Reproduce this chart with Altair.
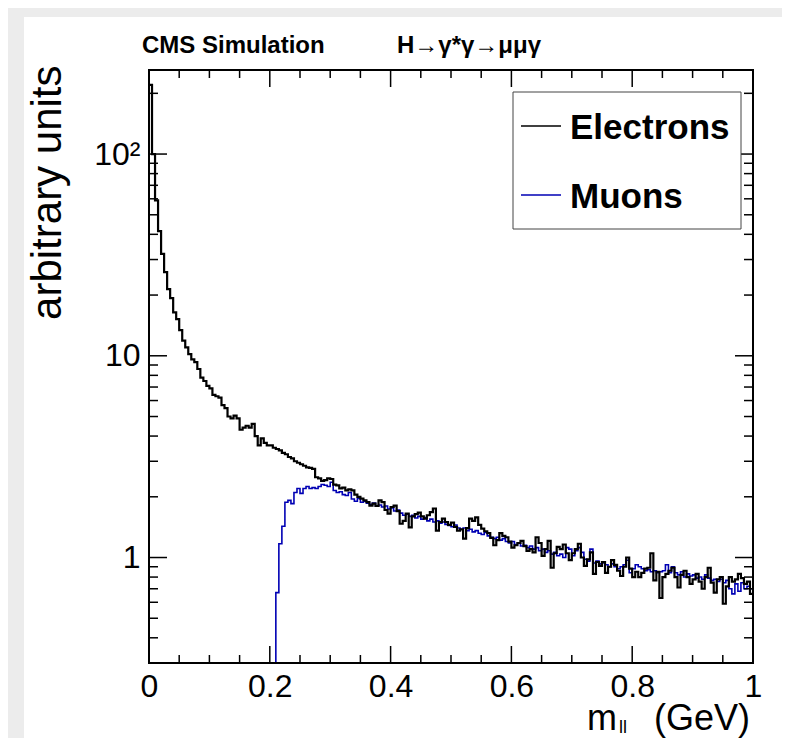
import altair as alt
import pandas as pd

# ---------------- data ----------------
n_bins = 200
x_lo, x_hi = 0.0, 1.0

electrons = [
    220, 100, 59, 41.5, 32, 26, 21.4, 19.3, 16.4, 15.2,
    13.4, 11.9, 11.0, 10.2, 9.6, 9.3, 8.6, 7.8, 7.5, 7.1,
    6.9, 6.4, 6.3, 6.2, 5.7, 5.5, 5.0, 4.9, 5.05, 4.9,
    4.3, 4.4, 4.5, 4.4, 4.6, 4.0, 3.6, 3.9, 3.7, 3.6,
    3.6, 3.5, 3.45, 3.4, 3.3, 3.25, 3.15, 3.1, 3.0, 2.95,
    2.9, 2.85, 2.8, 2.78, 2.75, 2.5, 2.47, 2.4, 2.42, 2.47,
    2.45, 2.3, 2.28, 2.2, 2.22, 2.15, 2.18, 2.15, 2.05, 2.0,
    1.96, 1.92, 1.88, 1.81, 1.85, 1.8, 1.92, 1.88, 1.72, 1.65,
    1.78, 1.81, 1.7, 1.47, 1.52, 1.65, 1.41, 1.6, 1.64, 1.67,
    1.6, 1.56, 1.62, 1.68, 1.75, 1.36, 1.5, 1.56, 1.5, 1.45,
    1.49, 1.42, 1.36, 1.38, 1.24, 1.4, 1.56, 1.52, 1.58, 1.45,
    1.39, 1.35, 1.32, 1.25, 1.15, 1.22, 1.32, 1.28, 1.26, 1.2,
    1.12, 1.15, 1.18, 1.21, 1.14, 1.08, 1.1, 1.06, 1.26, 1.18,
    1.02, 1.1, 1.21, 0.89, 1.05, 1.13, 1.1, 1.16, 1.05, 0.97,
    1.05, 1.1, 1.17, 1.0, 0.91, 0.98, 1.06, 0.83, 0.95, 0.91,
    0.95, 0.84, 0.9, 0.97, 0.92, 0.86, 0.81, 0.9, 1.0, 0.88,
    0.80, 0.85, 0.80, 0.84, 0.88, 0.89, 1.05, 0.77, 0.85, 0.63,
    0.8, 0.83, 0.86, 0.89, 0.8, 0.71, 0.82, 0.86, 0.8, 0.74,
    0.78, 0.83, 0.76, 0.70, 0.8, 0.89, 0.75, 0.67, 0.78, 0.80,
    0.59, 0.72, 0.80, 0.76, 0.78, 0.83, 0.79, 0.74, 0.76, 0.66,
]

muons = [
    0, 0, 0, 0, 0, 0, 0, 0, 0, 0,
    0, 0, 0, 0, 0, 0, 0, 0, 0, 0,
    0, 0, 0, 0, 0, 0, 0, 0, 0, 0,
    0, 0, 0, 0, 0, 0, 0, 0, 0, 0,
    0, 0, 0.67, 1.17, 1.43, 1.88, 1.92, 1.85, 2.1, 2.2,
    2.08, 2.2, 2.25, 2.2, 2.22, 2.2, 2.25, 2.3, 2.28, 2.25,
    2.36, 2.15, 2.1, 2.12, 2.05, 2.03, 2.1, 1.95, 1.9, 1.96,
    1.88, 1.9, 1.86, 1.83, 1.86, 1.8, 1.82, 1.78, 1.8, 1.74,
    1.76, 1.7, 1.72, 1.66, 1.62, 1.64, 1.6, 1.62, 1.57, 1.6,
    1.55, 1.58, 1.52, 1.55, 1.5, 1.52, 1.48, 1.5, 1.46, 1.44,
    1.42, 1.45, 1.4, 1.38, 1.4, 1.36, 1.38, 1.34, 1.36, 1.32,
    1.3, 1.33, 1.28, 1.26, 1.24, 1.26, 1.22, 1.24, 1.2, 1.18,
    1.2, 1.16, 1.18, 1.14, 1.15, 1.12, 1.14, 1.1, 1.12, 1.08,
    1.1, 1.06, 1.08, 1.04, 1.06, 1.02, 1.04, 1.0, 1.12, 1.1,
    1.02, 1.08, 1.12, 1.06, 0.98, 0.96, 1.1, 0.94, 0.96, 0.93,
    0.94, 0.92, 0.9, 0.93, 0.9, 0.88, 0.9, 0.92, 0.97, 0.84,
    0.88, 0.92, 0.9, 0.88, 0.86, 0.87, 0.85, 0.86, 0.84, 0.85,
    0.86, 0.92, 0.84, 0.9, 0.84, 0.82, 0.85, 0.8, 0.83, 0.81,
    0.82, 0.79, 0.8, 0.78, 0.82, 0.79, 0.77, 0.78, 0.76, 0.78,
    0.75, 0.77, 0.7, 0.66, 0.74, 0.68, 0.75, 0.7, 0.72, 0.7,
]

x_major = [0, 0.2, 0.4, 0.6, 0.8, 1]
x_minor = [0.05, 0.1, 0.15, 0.25, 0.3, 0.35, 0.45, 0.5, 0.55,
           0.65, 0.7, 0.75, 0.85, 0.9, 0.95]
y_major = [1, 10, 100]
y_minor = [0.4, 0.5, 0.6, 0.7, 0.8, 0.9, 2, 3, 4, 5, 6, 7, 8, 9,
           20, 30, 40, 50, 60, 70, 80, 90, 200]
y_domain = [0.3, 261]

series_names = ["Electrons", "Muons"]
series_colors = ["#000000", "#0000b4"]

# ---------------- layout ----------------
W, H = 604, 593
PAD_L, PAD_T, PAD_R, PAD_B = 141, 62, 29, 75
FONT = "Liberation Sans"
GREY = "#ececec"

edges = [x_lo + (x_hi - x_lo) * k / n_bins for k in range(n_bins + 1)]


def hist_frame(vals):
    return pd.DataFrame({"x": edges, "y": list(vals) + [vals[-1]]})


xs = alt.Scale(domain=[x_lo, x_hi], nice=False, zero=False)
ys = alt.Scale(type="log", domain=y_domain, nice=False)

x_axis = alt.Axis(values=x_major, format="~g", ticks=False, domain=False,
                  grid=False, labelFont=FONT, labelFontSize=32,
                  labelColor="black", labelPadding=8, labelFlush=False,
                  labelOverlap=False, title=None, zindex=2)
y_axis = alt.Axis(values=y_major,
                  labelExpr="datum.value == 100 ? '10\u00b2' : datum.value == 10 ? '10' : '1'",
                  ticks=False, domain=False, grid=False, labelFont=FONT,
                  labelFontSize=32, labelColor="black", labelPadding=9,
                  labelFlush=False, labelOverlap=False,
                  title="arbitrary units", titleFont=FONT, titleFontSize=42,
                  titleFontWeight="normal", titleColor="black",
                  titleAngle=270, titleAlign="right",
                  titleBaseline="alphabetic", titleX=-89, titleY=-5, zindex=2)


def X(field="x"):
    return alt.X(f"{field}:Q", scale=xs, axis=x_axis)


def Y(field="y"):
    return alt.Y(f"{field}:Q", scale=ys, axis=y_axis)


one = pd.DataFrame({"t": [""]})

# grey page border with a white sheet on it
grey_bg = alt.Chart(one).mark_rect(color=GREY).encode(
    x=alt.value(-PAD_L), x2=alt.value(W + PAD_R + 10),
    y=alt.value(-PAD_T), y2=alt.value(H + PAD_B + 10))
white_bg = alt.Chart(one).mark_rect(color="white").encode(
    x=alt.value(-125), x2=alt.value(W + PAD_R + 10),
    y=alt.value(-53), y2=alt.value(H + PAD_B + 10))

muon_line = alt.Chart(hist_frame(muons)).transform_calculate(
    yc="max(datum.y, 0.3)"
).mark_line(interpolate="step-after", color=series_colors[1],
            strokeWidth=1.6).encode(x=X(), y=Y("yc"))

ele_line = alt.Chart(hist_frame(electrons)).mark_line(
    interpolate="step-after", color=series_colors[0], strokeWidth=2.2
).encode(x=X(), y=Y())

# inward ticks on all four sides
xmaj = pd.DataFrame({"x": x_major})
xmin = pd.DataFrame({"x": x_minor})
ymaj = pd.DataFrame({"y": y_major})
ymin = pd.DataFrame({"y": y_minor})
tick_style = dict(color="black", strokeWidth=1.5)
ticks = [
    alt.Chart(xmaj).mark_rule(**tick_style).encode(x=X(), y=alt.value(H), y2=alt.value(H - 17)),
    alt.Chart(xmin).mark_rule(**tick_style).encode(x=X(), y=alt.value(H), y2=alt.value(H - 8)),
    alt.Chart(xmaj).mark_rule(**tick_style).encode(x=X(), y=alt.value(0), y2=alt.value(17)),
    alt.Chart(xmin).mark_rule(**tick_style).encode(x=X(), y=alt.value(0), y2=alt.value(8)),
    alt.Chart(ymaj).mark_rule(**tick_style).encode(y=Y(), x=alt.value(0), x2=alt.value(18)),
    alt.Chart(ymin).mark_rule(**tick_style).encode(y=Y(), x=alt.value(0), x2=alt.value(9)),
    alt.Chart(ymaj).mark_rule(**tick_style).encode(y=Y(), x=alt.value(W), x2=alt.value(W - 18)),
    alt.Chart(ymin).mark_rule(**tick_style).encode(y=Y(), x=alt.value(W), x2=alt.value(W - 9)),
]

frame = alt.Chart(one).mark_rect(fillOpacity=0, stroke="black", strokeWidth=2).encode(
    x=alt.value(0), x2=alt.value(W), y=alt.value(0), y2=alt.value(H))


def text(s, px, py, size, weight="normal", align="left", baseline="alphabetic"):
    kw = dict(text=s, font=FONT, fontSize=size, fontWeight=weight, align=align,
              baseline=baseline, color="black")
    return alt.Chart(one).mark_text(**kw).encode(x=alt.value(px), y=alt.value(py))


annotations = [
    text("CMS Simulation", -7, -17, 24, "bold"),
    text("H\u2192\u03b3*\u03b3\u2192\u03bc\u03bc\u03b3", 248, -17, 24, "bold"),
    text("m", 438, 660, 36),
    text("ll", 470, 663, 18),
    text("(GeV)", 601, 660, 36, align="right"),
]

# legend box
legend = [
    alt.Chart(one).mark_rect(fill="white", stroke="#444444", strokeWidth=1).encode(
        x=alt.value(364), x2=alt.value(592), y=alt.value(22), y2=alt.value(159)),
    alt.Chart(one).mark_rule(color=series_colors[0], strokeWidth=1.5).encode(
        x=alt.value(372), x2=alt.value(412), y=alt.value(56)),
    alt.Chart(one).mark_rule(color=series_colors[1], strokeWidth=1.5).encode(
        x=alt.value(372), x2=alt.value(412), y=alt.value(125)),
    text(series_names[0], 421, 69, 35, "bold"),
    text(series_names[1], 421, 138, 35, "bold"),
]

chart = alt.layer(
    grey_bg, white_bg, muon_line, ele_line, *ticks, frame, *annotations, *legend
).properties(
    width=W, height=H,
    autosize=alt.AutoSizeParams(type="none"),
    padding={"left": PAD_L, "top": PAD_T, "right": PAD_R, "bottom": PAD_B},
    background="white",
).configure_view(stroke=None)

chart.save("out.html", embed_options={"renderer": "svg", "actions": False})
